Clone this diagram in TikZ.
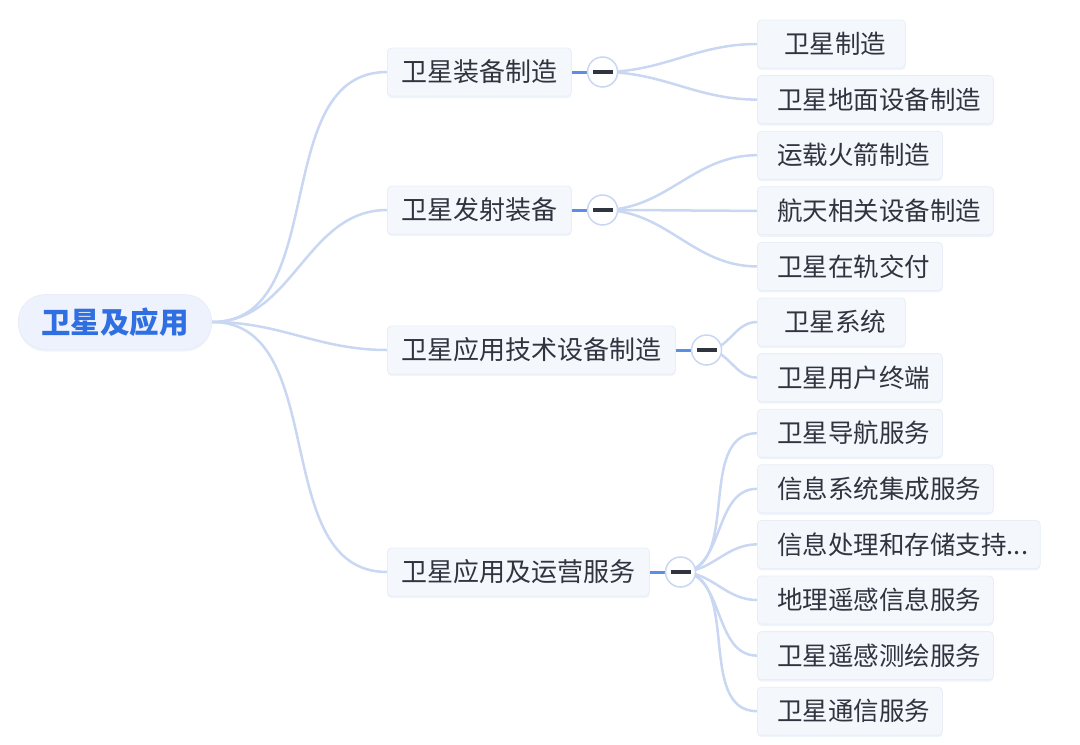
\documentclass[tikz,border=0pt]{standalone}
\usepackage{fontspec}
\setmainfont{Noto Sans CJK SC}
\usetikzlibrary{positioning,backgrounds,shadows}
\definecolor{linkblue}{HTML}{C9D7F3}
\definecolor{stubblue}{HTML}{5B8FE3}
\definecolor{boxfill}{HTML}{F4F7FC}
\definecolor{boxline}{HTML}{E8EDF7}
\definecolor{inkgray}{HTML}{30343F}
\definecolor{rootblue}{HTML}{2F6FE2}
\definecolor{rootfill}{HTML}{EDF2FC}
\newcommand{\elide}{...}
\tikzset{
  topic/.style={draw=boxline, fill=boxfill, rounded corners=4pt, line width=0.8pt,
    text=inkgray, font=\fontsize{26}{30}\selectfont, minimum height=48pt, inner xsep=14pt,
    anchor=west, drop shadow={shadow xshift=0pt, shadow yshift=-2pt, opacity=0.10, fill=stubblue}},
  leaf/.style={topic, font=\fontsize{25.5}{30}\selectfont, inner xsep=12pt, minimum width=148pt,
    execute at begin node=\hspace*{8pt}},
  fold/.style={circle, draw=linkblue, fill=white, line width=1.5pt, minimum size=30pt, inner sep=0pt,
    path picture={\draw[line width=3.5pt, inkgray] ([xshift=-10pt]path picture bounding box.center)
      -- ([xshift=10pt]path picture bounding box.center);}},
  link/.style={draw=linkblue, line width=2.5pt},
  stub/.style={draw=stubblue, line width=3pt}
}

\begin{document}
\begin{tikzpicture}[x=1pt, y=-1pt]
  \useasboundingbox (0,0) rectangle (1080,745);
  % central topic
  \node[draw=boxline, fill=rootfill, rounded corners=27pt, line width=0.8pt, minimum height=55pt,
    inner xsep=23pt, text=rootblue, font=\fontsize{29.5}{34}\selectfont\bfseries,
    drop shadow={shadow xshift=0pt, shadow yshift=-2pt, opacity=0.10, fill=stubblue}]
    (root) at (115,322) {卫星及应用};
  % main branches
  \node[topic] (b1) at (387,72) {卫星装备制造};
  \node[topic] (b2) at (387,210) {卫星发射装备};
  \node[topic] (b3) at (387,350) {卫星应用技术设备制造};
  \node[topic] (b4) at (387,572) {卫星应用及运营服务};
  % collapse buttons
  \foreach \i in {1,...,4}{\node[fold, right=15pt of b\i] (c\i) {};}
  % leaves, top to bottom
  \foreach \txt [count=\i] in {卫星制造, 卫星地面设备制造, 运载火箭制造, 航天相关设备制造,
      卫星在轨交付, 卫星系统, 卫星用户终端, 卫星导航服务, 信息系统集成服务,
      信息处理和存储支持\elide, 地理遥感信息服务, 卫星遥感测绘服务, 卫星通信服务}
    {\node[leaf] (l\i) at (757,{44+55.6*(\i-1)}) {\txt};}
  % connectors
  \begin{scope}[on background layer]
    \foreach \i in {1,...,4}{
      \draw[link] (root.east) to[out=0, in=180] (b\i.west);
      \draw[stub] (b\i.east) -- (c\i.west);
    }
    \foreach \c/\l in {c1/l1, c1/l2, c2/l3, c2/l4, c2/l5, c3/l6, c3/l7,
        c4/l8, c4/l9, c4/l10, c4/l11, c4/l12, c4/l13}
      {\draw[link] (\c.center) to[out=0, in=180] (\l.west);}
  \end{scope}
\end{tikzpicture}
\end{document}
